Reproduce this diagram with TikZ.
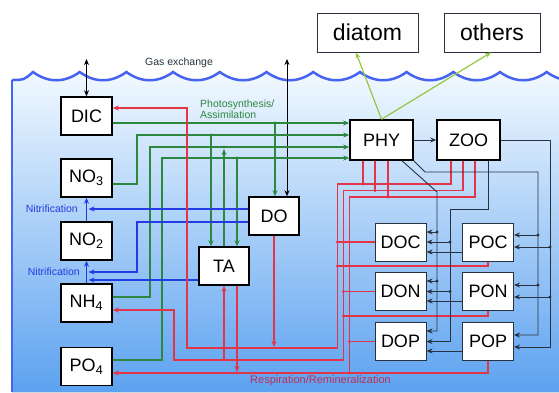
\documentclass[tikz,border=0pt]{standalone}
\usepackage{fontspec}
\setmainfont{Liberation Sans}
\usetikzlibrary{arrows.meta}
\definecolor{grn}{RGB}{46,135,62}
\definecolor{blu}{RGB}{35,60,225}
\definecolor{rd}{RGB}{228,52,72}
\definecolor{dk}{RGB}{40,50,62}
\definecolor{lime}{RGB}{150,198,62}
\definecolor{wave}{RGB}{70,100,240}
\definecolor{seatop}{RGB}{242,249,255}
\definecolor{seabot}{RGB}{92,162,240}
\definecolor{resp}{RGB}{190,45,85}
\begin{document}
\begin{tikzpicture}[x=1pt,y=-1pt,
  >={Stealth[length=6pt,width=5pt]},
  box/.style={draw=black, line width=1.5pt, fill=white, inner sep=0pt,
              minimum width=51pt, minimum height=38pt, font=\fontsize{18}{20}\selectfont},
  pbox/.style={box, draw=dk, line width=1pt},
  tbox/.style={draw=dk, line width=1pt, fill=white, inner sep=0pt,
               minimum height=39pt, font=\fontsize{23}{25}\selectfont},
  g/.style={grn, line width=1.1pt},
  b/.style={blu, line width=1.1pt},
  r/.style={rd, line width=1.1pt},
  k/.style={dk, line width=0.9pt},
  lbl/.style={inner sep=0pt, font=\fontsize{10.5}{10.5}\selectfont}
]
\useasboundingbox (0,0) rectangle (559,392);

% water
\fill[top color=seatop, bottom color=seabot] (12,80) .. controls (24,80) .. (33,72)
  \foreach \i in {1,...,12} { .. controls +(15,11) and +(-15,11) .. ++(46.7,0) }
  -- (600,392) -- (12,392) -- cycle;
\draw[wave, line width=2.5pt] (12,80) .. controls (24,80) .. (33,72)
  \foreach \i in {1,...,12} { .. controls +(15,11) and +(-15,11) .. ++(46.7,0) };
\draw[wave, line width=2.5pt] (12,80) -- (12,392);

\node[box] (DIC) at (86.5,116) {DIC};
\node[box] (NO3) at (86.5,178) {NO\textsubscript{3}};
\node[box] (NO2) at (86.5,241) {NO\textsubscript{2}};
\node[box] (NH4) at (86.5,303) {NH\textsubscript{4}};
\node[box] (PO4) at (86.5,366.5) {PO\textsubscript{4}};
\node[box, minimum width=50pt] (DO) at (274,216) {DO};
\node[box, minimum width=50pt] (TA) at (224,266) {TA};
\node[box, minimum width=63pt, minimum height=40pt] (PHY) at (381.5,140) {PHY};
\node[box, minimum width=63pt, minimum height=40pt] (ZOO) at (468.5,140) {ZOO};
\node[pbox] (DOC) at (400.5,242) {DOC};
\node[pbox] (POC) at (488,242) {POC};
\node[pbox] (DON) at (400.5,291.5) {DON};
\node[pbox] (PON) at (488,291.5) {PON};
\node[pbox] (DOP) at (400.5,341.5) {DOP};
\node[pbox] (POP) at (488,341.5) {POP};
\node[tbox, minimum width=101pt] (diatom) at (367.5,32.5) {diatom};
\node[tbox, minimum width=96pt] (others) at (492,32.5) {others};

\node[lbl, text=dk] (gas) at (179,63) {Gas exchange};
\node[lbl, text=grn, align=left, anchor=west] (photo) at (200,109) {Photosynthesis/\\Assimilation};
\node[lbl, text=blu, anchor=east] (nit1) at (78,209) {Nitrification};
\node[lbl, text=blu, anchor=east] (nit2) at (80,272) {Nitrification};
\node[lbl, text=resp, anchor=west, font=\fontsize{11}{11}\selectfont] (resp) at (250,381) {Respiration/Remineralization};

\coordinate (air1) at (86.5,59);
\coordinate (air2) at (287,59);
\draw[k, black, <->] (air1) -- (DIC.north);
\draw[k, black, <->] (air2) -- (DO.north -| air2);

\draw[g,->] (DIC.east |- 0,123) -- (PHY.west |- 0,123);
\draw[g,->] (NO3.east |- 0,184) -| (137,135) -- (PHY.west |- 0,135);
\draw[g,->] (NH4.east |- 0,297) -| (150,147) -- (PHY.west |- 0,147);
\draw[g,->] (PO4.east |- 0,360) -| (162,158) -- (PHY.west |- 0,158);
\draw[g,->] (275,123) -- (DO.north -| 275,0);
\draw[g,->] (211,135) -- (TA.north -| 211,0);
\draw[g,->] (TA.north -| 224,0) -- (224,149);
\draw[g,->] (237,158) -- (TA.north -| 237,0);
\foreach \p in {(275,123),(211,135),(224,147),(237,158)}
  \fill[grn] \p circle (1.6pt);

\draw[b,->] (NO2.north) -- (NO3.south);
\draw[b,->] (NH4.north) -- (NO2.south);
\draw[b,->] (DO.west |- 0,209) -- (88.5,209);
\draw[b,->] (DO.west |- 0,222) -| (137,272) -- (88.5,272);
\draw[b,->] (TA.west |- 0,280) -- (88.5,280);

\draw[r,->] (ZOO.south -| 451,0) |- (337.5,184) |- (187,348) |- (DIC.east |- 0,108);
\draw[r,->] (ZOO.south -| 463,0) |- (343.5,190.5) |- (174,360) |- (NH4.east |- 0,310);
\draw[r,->] (ZOO.south -| 475,0) |- (349.5,197) |- (PO4.east |- 0,373);
\draw[r] (PHY.south -| 363,0) -- (363,184);
\draw[r] (PHY.south -| 375,0) -- (375,190.5);
\draw[r] (PHY.south -| 388,0) -- (388,197);
\draw[r] (DOC.west) -- (337.5,242);
\draw[r] (DON.west) -- (343.5,291.5);
\draw[r] (DOP.west) -- (349.5,341.5);
\draw[r] (POC.south) |- (337.5,266);
\draw[r] (PON.south) |- (343.5,316);
\draw[r] (POP.south) |- (349.5,373);
\draw[r,->] (DO.south) -- (274,347);
\draw[r,->] (224,360) -- (TA.south -| 224,0);
\draw[r,->] (TA.south -| 237,0) -- (237,372);
\foreach \p in {(363,184),(375,190.5),(388,197),(337.5,242),(337.5,266),(343.5,291.5),
                (343.5,316),(349.5,341.5),(349.5,373),(224,360),(237,373)}
  \fill[rd] \p circle (1.6pt);

\draw[k,->] (PHY.east) -- (ZOO.west);
\draw[k,->] (PHY.south -| 402,0) -- (437,192) |- (DOP.east |- 0,331);
\draw[k,->] (PHY.south east) -- (425,172) -| (538,335) -- (POP.east |- 0,335);
\draw[k,->] (ZOO.east) -| (550,347) -- (POP.east |- 0,347);
\draw[k,->] (ZOO.south -| 488,0) |- (450,209) |- (DOP.east |- 0,341.5);
\draw[k,->] (437,232) -- (DOC.east |- 0,232);
\draw[k,->] (437,281) -- (DON.east |- 0,281);
\draw[k,->] (450,242) -- (DOC.east |- 0,242);
\draw[k,->] (450,291.5) -- (DON.east |- 0,291.5);
\draw[k,->] (538,235) -- (POC.east |- 0,235);
\draw[k,->] (538,285) -- (PON.east |- 0,285);
\draw[k,->] (550,247) -- (POC.east |- 0,247);
\draw[k,->] (550,297) -- (PON.east |- 0,297);
\draw[k,->] (POC.west |- 0,252) -- (DOC.east |- 0,252);
\draw[k,->] (PON.west |- 0,301) -- (DON.east |- 0,301);
\draw[k,->] (POP.west |- 0,351) -- (DOP.east |- 0,351);
\foreach \p in {(437,232),(437,281),(450,242),(450,291.5),(538,235),(538,285),(550,247),(550,297)}
  \fill[dk] \p circle (1.6pt);

\draw[lime, line width=1.2pt, ->] (PHY.north) -- (diatom.south -| 356,0);
\draw[lime, line width=1.2pt, ->] (PHY.north) -- (others.south -| 491,0);
\end{tikzpicture}
\end{document}
